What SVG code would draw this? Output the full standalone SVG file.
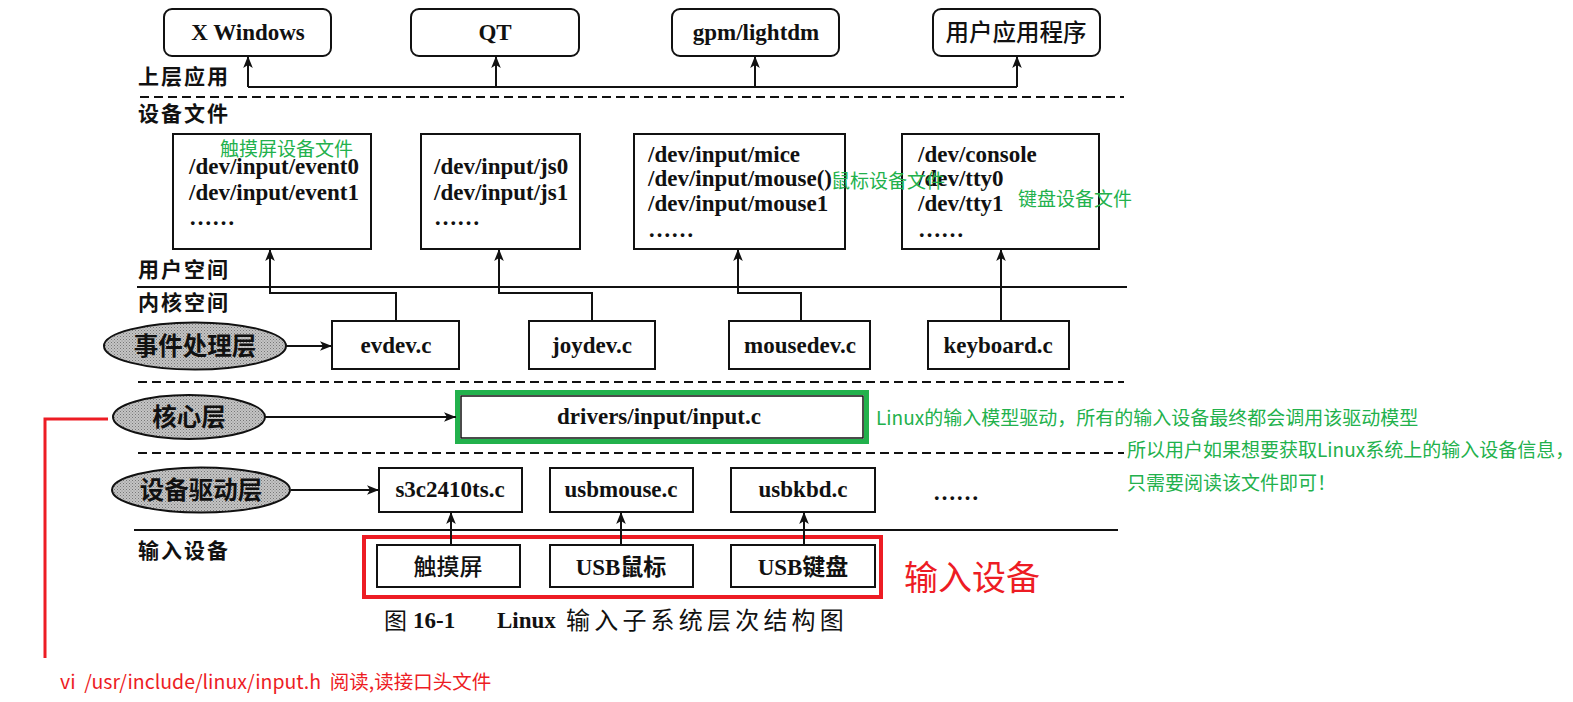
<svg xmlns="http://www.w3.org/2000/svg" width="1573" height="702" viewBox="0 0 1573 702">
<style>
.box{fill:#fff;stroke:#111;stroke-width:2}
.lbl{font-family:"Liberation Serif",serif;font-weight:bold;font-size:23px;fill:#111}
.dev{font-family:"Liberation Serif",serif;font-weight:bold;font-size:23px;fill:#111}
.cjk{font-family:"Noto Sans CJK SC",sans-serif;font-weight:bold;font-size:21px;fill:#111;letter-spacing:2px}
.ell{fill:url(#dots);stroke:#111;stroke-width:2}
.elbl{font-family:"Noto Sans CJK SC",sans-serif;font-weight:bold;font-size:24.5px;fill:#111;text-anchor:middle}
.ann{font-family:"Noto Sans CJK SC",sans-serif;font-size:19px;fill:#22B14C}
.conn{fill:none;stroke:#111;stroke-width:2}
.arr{fill:none;stroke:#111;stroke-width:2;marker-end:url(#ah)}
.dash{stroke:#111;stroke-width:2;stroke-dasharray:9 5}
.solid{stroke:#111;stroke-width:2}
.mid{text-anchor:middle}
</style>
<defs>
<marker id="ah" viewBox="0 0 10 8" markerWidth="12" markerHeight="10" refX="10" refY="4" orient="auto" markerUnits="userSpaceOnUse">
<path d="M0,0 L10,4 L0,8 L2.5,4 z" fill="#111"/>
</marker>
<pattern id="dots" width="3" height="3" patternUnits="userSpaceOnUse">
<rect width="3" height="3" fill="#c4c4c4"/>
<rect x="0" y="0" width="1" height="1" fill="#777"/>
<rect x="1.5" y="1.5" width="1" height="1" fill="#888"/>
</pattern>
</defs>
<rect width="1573" height="702" fill="#fff"/>

<!-- layer lines and labels -->
<g id="layers">
<line class="dash" x1="140" y1="97" x2="1124" y2="97"/>
<line class="solid" x1="137" y1="287" x2="1127" y2="287"/>
<line class="dash" x1="138" y1="382" x2="1124" y2="382"/>
<line class="dash" x1="138" y1="453" x2="1124" y2="453"/>
<line class="solid" x1="134" y1="530" x2="1118" y2="530"/>
<text class="cjk" x="138" y="84">上层应用</text>
<text class="cjk" x="138" y="121">设备文件</text>
<text class="cjk" x="138" y="277">用户空间</text>
<text class="cjk" x="138" y="310">内核空间</text>
<text class="cjk" x="138" y="558">输入设备</text>
</g>

<!-- upper applications -->
<g id="xwindows"><rect class="box" x="164" y="9" width="167" height="47" rx="8"/><text class="lbl mid" x="248" y="40">X Windows</text></g>
<g id="qt"><rect class="box" x="411" y="9" width="168" height="47" rx="8"/><text class="lbl mid" x="495" y="40">QT</text></g>
<g id="gpm"><rect class="box" x="672" y="9" width="167" height="47" rx="8"/><text class="lbl mid" x="756" y="40">gpm/lightdm</text></g>
<g id="userapp"><rect class="box" x="933" y="9" width="167" height="47" rx="8"/><text class="mid" x="1016" y="41" style="font-family:'Noto Sans CJK SC',sans-serif;font-weight:500;font-size:23.5px;fill:#111">用户应用程序</text></g>

<!-- device files -->
<g id="devfile-event">
<rect class="box" x="173" y="134" width="198" height="115"/>
<text class="dev" x="189" y="174">/dev/input/event0</text>
<text class="dev" x="189" y="200">/dev/input/event1</text>
<text class="dev" x="189" y="225">……</text>
</g>
<g id="devfile-js">
<rect class="box" x="421" y="134" width="159" height="115"/>
<text class="dev" x="434" y="174">/dev/input/js0</text>
<text class="dev" x="434" y="200">/dev/input/js1</text>
<text class="dev" x="434" y="225">……</text>
</g>
<g id="devfile-mouse">
<rect class="box" x="634" y="134" width="211" height="115"/>
<text class="dev" x="648" y="162">/dev/input/mice</text>
<text class="dev" x="648" y="186">/dev/input/mouse()</text>
<text class="dev" x="648" y="211">/dev/input/mouse1</text>
<text class="dev" x="648" y="237">……</text>
</g>
<g id="devfile-tty">
<rect class="box" x="902" y="134" width="197" height="115"/>
<text class="dev" x="918" y="162">/dev/console</text>
<text class="dev" x="918" y="186">/dev/tty0</text>
<text class="dev" x="918" y="211">/dev/tty1</text>
<text class="dev" x="918" y="237">……</text>
</g>

<!-- event handler layer -->
<g id="event-layer"><ellipse class="ell" cx="195" cy="346" rx="91" ry="23.5"/><text class="elbl" x="195" y="355">事件处理层</text></g>
<g id="evdev"><rect class="box" x="332" y="321" width="127" height="48"/><text class="lbl mid" x="396" y="353">evdev.c</text></g>
<g id="joydev"><rect class="box" x="529" y="321" width="126" height="48"/><text class="lbl mid" x="592" y="353">joydev.c</text></g>
<g id="mousedev"><rect class="box" x="729" y="321" width="141" height="48"/><text class="lbl mid" x="800" y="353">mousedev.c</text></g>
<g id="keyboard"><rect class="box" x="928" y="321" width="141" height="48"/><text class="lbl mid" x="998" y="353">keyboard.c</text></g>

<!-- core layer -->
<g id="core-layer"><ellipse class="ell" cx="189" cy="417" rx="76" ry="22"/><text class="elbl" x="189" y="426">核心层</text></g>
<g id="input-core">
<rect x="457.5" y="392.5" width="409" height="49" fill="none" stroke="#22B14C" stroke-width="5"/>
<rect x="461" y="396" width="402" height="42" fill="#fff" stroke="#111" stroke-width="1.5"/>
<text class="lbl mid" x="659" y="424">drivers/input/input.c</text>
</g>

<!-- device driver layer -->
<g id="driver-layer"><ellipse class="ell" cx="201" cy="490" rx="89" ry="22.5"/><text class="elbl" x="201" y="499">设备驱动层</text></g>
<g id="s3c"><rect class="box" x="379" y="468" width="143" height="44"/><text class="lbl mid" x="450" y="497">s3c2410ts.c</text></g>
<g id="usbmouse"><rect class="box" x="550" y="468" width="143" height="44"/><text class="lbl mid" x="621" y="497">usbmouse.c</text></g>
<g id="usbkbd"><rect class="box" x="731" y="468" width="144" height="44"/><text class="lbl mid" x="803" y="497">usbkbd.c</text></g>
<g id="driver-more"><text class="dev" x="933" y="500">……</text></g>

<!-- input devices -->
<g id="touch"><rect class="box" x="377" y="545" width="143" height="42"/><text class="mid" x="448" y="575" style="font-family:'Noto Sans CJK SC',sans-serif;font-weight:500;font-size:23px;fill:#111">触摸屏</text></g>
<g id="usbm"><rect class="box" x="550" y="545" width="143" height="42"/><text class="mid" x="621" y="575" style="font-family:'Liberation Serif','Noto Sans CJK SC',serif;font-weight:bold;font-size:23px;fill:#111">USB鼠标</text></g>
<g id="usbk"><rect class="box" x="731" y="545" width="144" height="42"/><text class="mid" x="803" y="575" style="font-family:'Liberation Serif','Noto Sans CJK SC',serif;font-weight:bold;font-size:23px;fill:#111">USB键盘</text></g>
<g id="input-highlight"><rect x="364" y="537" width="517" height="60" fill="none" stroke="#ED1C24" stroke-width="4"/></g>

<!-- connectors -->
<g id="connectors">
<path class="conn" d="M248,87 H1017"/>
<path class="arr" d="M248,87 V56"/>
<path class="arr" d="M496,87 V56"/>
<path class="arr" d="M755,87 V56"/>
<path class="arr" d="M1017,87 V56"/>
<path class="arr" d="M396,321 V293 H270 V249"/>
<path class="arr" d="M592,321 V293 H499 V249"/>
<path class="arr" d="M801,321 V293 H738 V249"/>
<path class="arr" d="M1001,321 V249"/>
<path class="arr" d="M286,346 H332"/>
<path class="arr" d="M265,417 H456"/>
<path class="arr" d="M291,490 H379"/>
<path class="arr" d="M451,545 V512"/>
<path class="arr" d="M621,545 V512"/>
<path class="arr" d="M804,545 V512"/>
<path d="M108,419 H45 V658" fill="none" stroke="#ED1C24" stroke-width="3"/>
</g>

<!-- annotations -->
<g id="annotations">
<text class="ann" x="220" y="156">触摸屏设备文件</text>
<text class="ann" x="831" y="188">鼠标设备文件</text>
<text class="ann" x="1018" y="206">键盘设备文件</text>
<text class="ann" x="876" y="425">Linux的输入模型驱动，所有的输入设备最终都会调用该驱动模型</text>
<text class="ann" x="1127" y="457">所以用户如果想要获取Linux系统上的输入设备信息，</text>
<text class="ann" x="1127" y="490">只需要阅读该文件即可！</text>
<text x="904" y="590" style="font-family:'Noto Sans CJK SC',sans-serif;font-size:34px;fill:#ED1C24">输入设备</text>
<text x="60" y="689" xml:space="preserve" style="font-family:'Noto Sans CJK SC',sans-serif;font-size:19.5px;fill:#ED1C24;white-space:pre">vi  /usr/include/linux/input.h  阅读,读接口头文件</text>
</g>

<!-- caption -->
<g id="caption">
<text x="384" y="629" style="font-family:'Noto Sans CJK SC',sans-serif;font-size:23px;fill:#111">图</text>
<text x="413" y="628" style="font-family:'Liberation Serif',serif;font-weight:bold;font-size:23px;fill:#111">16-1</text>
<text x="497" y="628" style="font-family:'Liberation Serif',serif;font-weight:bold;font-size:23px;fill:#111">Linux</text>
<text x="566" y="629" style="font-family:'Noto Sans CJK SC',sans-serif;font-size:24px;fill:#111;letter-spacing:4.2px">输入子系统层次结构图</text>
</g>
</svg>
